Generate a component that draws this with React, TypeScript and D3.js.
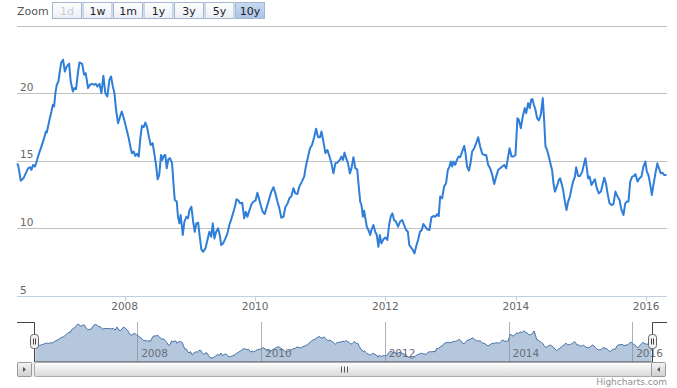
import { useEffect, useRef } from "react"
import * as d3 from "d3"

// weekly-ish closes, dates as "%Y-%j" (year + day of year)
const series: [string, number][] = [
  ["2006-130", 14.81], ["2006-136", 14.57], ["2006-149", 13.53], ["2006-164", 13.7], ["2006-177", 14.07],
  ["2006-190", 14.44], ["2006-202", 14.52], ["2006-209", 14.32], ["2006-218", 14.69], ["2006-228", 14.57],
  ["2006-235", 14.81], ["2006-243", 15.19], ["2006-252", 15.56], ["2006-262", 15.93], ["2006-271", 16.3],
  ["2006-280", 16.67], ["2006-290", 17.16], ["2006-295", 17.09], ["2006-302", 17.53], ["2006-312", 18.15],
  ["2006-321", 18.64], ["2006-329", 19.14], ["2006-336", 19.01], ["2006-343", 20.0], ["2006-351", 20.62],
  ["2006-360", 20.86],
  ["2007-003", 21.6], ["2007-010", 22.22], ["2007-021", 22.47], ["2007-031", 21.6], ["2007-042", 21.98],
  ["2007-055", 22.17], ["2007-064", 20.86], ["2007-076", 20.12], ["2007-084", 20.37], ["2007-094", 20.3],
  ["2007-104", 21.48], ["2007-113", 22.27], ["2007-128", 22.17], ["2007-139", 21.36], ["2007-148", 21.48],
  ["2007-161", 20.37], ["2007-172", 20.62], ["2007-184", 20.69], ["2007-195", 20.62], ["2007-204", 20.69],
  ["2007-213", 20.49], ["2007-225", 20.69], ["2007-236", 20.0], ["2007-247", 21.28], ["2007-258", 20.0],
  ["2007-269", 19.75], ["2007-281", 20.99], ["2007-290", 21.23], ["2007-300", 20.49], ["2007-309", 20.0],
  ["2007-318", 18.77], ["2007-329", 17.78], ["2007-341", 18.27], ["2007-350", 18.64], ["2007-362", 18.1],
  ["2008-013", 17.28], ["2008-024", 16.67], ["2008-033", 16.05], ["2008-042", 15.56], ["2008-052", 15.68],
  ["2008-061", 15.36], ["2008-070", 15.51], ["2008-080", 15.31], ["2008-089", 16.67], ["2008-098", 17.58],
  ["2008-108", 17.48], ["2008-117", 17.83], ["2008-126", 17.53], ["2008-136", 16.84], ["2008-147", 16.17],
  ["2008-158", 16.3], ["2008-167", 15.56], ["2008-177", 14.69], ["2008-186", 13.63], ["2008-195", 13.95],
  ["2008-205", 15.43], ["2008-212", 15.06], ["2008-220", 15.36], ["2008-229", 15.43], ["2008-237", 14.44],
  ["2008-246", 15.11], ["2008-255", 15.19], ["2008-267", 14.81], ["2008-276", 13.09], ["2008-282", 12.1],
  ["2008-293", 11.98], ["2008-300", 10.86], ["2008-308", 10.37], ["2008-315", 10.99], ["2008-327", 9.51],
  ["2008-336", 10.49], ["2008-347", 10.86], ["2008-356", 10.74], ["2008-365", 11.36],
  ["2009-009", 11.6], ["2009-019", 10.49], ["2009-028", 9.75], ["2009-037", 10.37], ["2009-047", 10.42],
  ["2009-056", 9.38], ["2009-065", 8.44], ["2009-075", 8.27], ["2009-088", 8.52], ["2009-099", 9.14],
  ["2009-110", 9.75], ["2009-120", 9.38], ["2009-129", 10.37], ["2009-138", 9.26], ["2009-148", 9.75],
  ["2009-159", 10.0], ["2009-169", 9.43], ["2009-176", 8.77], ["2009-187", 8.89], ["2009-200", 9.26],
  ["2009-211", 9.63], ["2009-222", 10.25], ["2009-234", 10.74], ["2009-245", 11.23], ["2009-253", 11.6],
  ["2009-262", 12.15], ["2009-273", 12.05], ["2009-282", 11.85], ["2009-294", 11.9], ["2009-305", 10.74],
  ["2009-314", 11.23], ["2009-323", 10.86], ["2009-334", 11.31], ["2009-346", 11.8], ["2009-357", 11.98],
  ["2010-003", 12.05], ["2010-014", 12.64], ["2010-025", 12.1], ["2010-035", 11.6], ["2010-044", 11.23],
  ["2010-055", 11.06], ["2010-067", 11.6], ["2010-081", 12.22], ["2010-092", 12.72], ["2010-104", 13.04],
  ["2010-115", 12.59], ["2010-126", 11.98], ["2010-137", 11.48], ["2010-148", 10.79], ["2010-160", 10.86],
  ["2010-171", 11.6], ["2010-182", 11.8], ["2010-193", 12.22], ["2010-204", 12.35], ["2010-216", 12.96],
  ["2010-227", 12.59], ["2010-238", 12.54], ["2010-249", 13.09], ["2010-263", 13.46], ["2010-276", 13.83],
  ["2010-287", 14.69], ["2010-298", 15.31], ["2010-309", 15.93], ["2010-320", 16.17], ["2010-332", 16.74],
  ["2010-343", 17.36], ["2010-354", 16.74], ["2010-365", 16.74],
  ["2011-008", 17.16], ["2011-019", 16.42], ["2011-030", 15.56], ["2011-041", 15.8], ["2011-053", 15.31],
  ["2011-064", 14.81], ["2011-075", 14.07], ["2011-086", 14.81], ["2011-097", 14.86], ["2011-111", 15.06],
  ["2011-120", 15.31], ["2011-128", 15.06], ["2011-137", 15.6], ["2011-146", 15.19], ["2011-157", 14.81],
  ["2011-167", 14.07], ["2011-176", 14.44], ["2011-187", 15.26], ["2011-198", 14.44], ["2011-208", 14.37],
  ["2011-217", 13.09], ["2011-225", 11.98], ["2011-232", 11.73], ["2011-240", 10.86], ["2011-247", 11.31],
  ["2011-254", 10.74], ["2011-262", 10.12], ["2011-271", 9.88], ["2011-281", 9.51], ["2011-288", 9.88],
  ["2011-299", 10.25], ["2011-309", 9.75], ["2011-318", 9.51], ["2011-327", 8.64], ["2011-335", 9.51],
  ["2011-344", 8.89], ["2011-355", 9.19],
  ["2012-001", 9.33], ["2012-012", 9.14], ["2012-022", 10.25], ["2012-031", 10.86], ["2012-040", 11.11],
  ["2012-050", 10.62], ["2012-061", 10.49], ["2012-072", 10.12], ["2012-083", 10.49], ["2012-095", 10.62],
  ["2012-106", 10.25], ["2012-117", 9.88], ["2012-127", 9.75], ["2012-135", 8.77], ["2012-145", 8.59],
  ["2012-155", 8.4], ["2012-164", 8.15], ["2012-173", 8.64], ["2012-184", 9.14], ["2012-195", 9.75],
  ["2012-205", 9.88], ["2012-214", 10.32], ["2012-225", 10.12], ["2012-236", 9.93], ["2012-248", 9.88],
  ["2012-259", 10.81], ["2012-270", 10.91], ["2012-281", 10.86], ["2012-292", 11.06], ["2012-300", 10.91],
  ["2012-308", 12.35], ["2012-319", 12.22], ["2012-330", 13.09], ["2012-341", 13.33], ["2012-351", 14.32],
  ["2012-360", 14.57],
  ["2013-002", 14.94], ["2013-009", 14.57], ["2013-017", 14.94], ["2013-026", 14.69], ["2013-036", 15.06],
  ["2013-045", 15.31], ["2013-054", 15.26], ["2013-065", 15.68], ["2013-077", 16.1], ["2013-084", 15.56],
  ["2013-093", 14.57], ["2013-103", 14.27], ["2013-112", 14.81], ["2013-121", 15.68], ["2013-133", 15.93],
  ["2013-144", 16.3], ["2013-155", 16.74], ["2013-166", 16.05], ["2013-178", 15.51], ["2013-189", 15.43],
  ["2013-200", 15.43], ["2013-211", 14.69], ["2013-222", 14.44], ["2013-234", 13.95], ["2013-245", 13.28],
  ["2013-256", 13.83], ["2013-267", 14.32], ["2013-278", 14.44], ["2013-290", 14.57], ["2013-301", 14.69],
  ["2013-312", 14.44], ["2013-323", 15.31], ["2013-331", 15.93], ["2013-342", 15.31], ["2013-353", 15.31],
  ["2013-364", 15.43],
  ["2014-010", 18.15], ["2014-018", 18.02], ["2014-029", 17.41], ["2014-040", 18.27], ["2014-051", 18.89],
  ["2014-059", 18.52], ["2014-070", 19.26], ["2014-079", 18.89], ["2014-087", 19.51], ["2014-094", 19.56],
  ["2014-102", 19.14], ["2014-111", 18.77], ["2014-120", 18.15], ["2014-130", 17.98], ["2014-141", 18.4],
  ["2014-152", 19.63], ["2014-160", 17.9], ["2014-167", 16.05], ["2014-176", 15.8], ["2014-186", 15.31],
  ["2014-197", 14.69], ["2014-204", 14.32], ["2014-212", 13.33], ["2014-220", 12.72], ["2014-231", 13.1],
  ["2014-242", 13.58], ["2014-249", 13.7], ["2014-257", 13.33], ["2014-266", 12.84], ["2014-276", 11.98],
  ["2014-285", 11.36], ["2014-294", 11.98], ["2014-304", 12.35], ["2014-313", 12.96], ["2014-322", 13.46],
  ["2014-332", 13.83], ["2014-339", 14.52], ["2014-350", 13.88], ["2014-361", 13.88],
  ["2015-008", 14.2], ["2015-019", 14.81], ["2015-026", 15.19], ["2015-034", 14.44], ["2015-041", 13.7],
  ["2015-049", 13.83], ["2015-060", 13.21], ["2015-071", 13.46], ["2015-079", 13.63], ["2015-090", 12.96],
  ["2015-101", 12.59], ["2015-113", 12.72], ["2015-124", 13.33], ["2015-131", 13.75], ["2015-141", 13.33],
  ["2015-150", 12.59], ["2015-161", 11.85], ["2015-172", 11.73], ["2015-183", 11.8], ["2015-194", 12.72],
  ["2015-206", 12.35], ["2015-217", 12.1], ["2015-228", 11.36], ["2015-239", 10.99], ["2015-249", 11.85],
  ["2015-258", 11.98], ["2015-267", 11.98], ["2015-277", 13.46], ["2015-288", 13.83], ["2015-299", 13.88],
  ["2015-306", 14.02], ["2015-318", 13.46], ["2015-329", 13.7], ["2015-340", 13.83], ["2015-351", 14.57],
  ["2015-362", 14.94],
  ["2016-005", 14.2], ["2016-014", 13.95], ["2016-023", 13.33], ["2016-033", 12.47], ["2016-042", 13.21],
  ["2016-053", 14.07], ["2016-064", 14.81], ["2016-076", 14.32], ["2016-083", 14.07], ["2016-092", 14.12],
  ["2016-102", 13.95], ["2016-115", 13.95],
]

const rangeStart = "2006-05-08"
const rangeEnd = "2016-04-27"
const yTicks = [5, 10, 15, 20, 25]
const yLabelTicks = [5, 10, 15, 20]
const xTickYears = ["2008", "2010", "2012", "2014", "2016"]
const zoomButtons = ["1d", "1w", "1m", "1y", "3y", "5y", "10y"]
const selectedButton = "10y"
const disabledButtons = ["1d"]

const W = 677
const H = 388
const FONT = '"DejaVu Sans", Verdana, Arial, sans-serif'

export default function App() {
  const svgRef = useRef<SVGSVGElement>(null)

  useEffect(() => {
    if (!svgRef.current) return
    const svg = d3.select(svgRef.current)
    svg.selectAll("*").remove()

    const parseDay = d3.timeParse("%Y-%j")
    const parseIso = d3.timeParse("%Y-%m-%d")
    const parseYear = d3.timeParse("%Y")
    const data = series.map(([d, v]) => ({ date: parseDay(d) as Date, value: v }))
    const domain = [parseIso(rangeStart) as Date, parseIso(rangeEnd) as Date]

    const plot = { left: 17, right: 667, top: 25.5, bottom: 296 }
    const nav = { left: 35, right: 652, top: 322, bottom: 362 }

    const x = d3.scaleTime().domain(domain).range([plot.left, plot.right])
    const y = d3.scaleLinear().domain([5, 25]).range([plot.bottom, plot.top])
    const nx = d3.scaleTime().domain(domain).range([nav.left, nav.right])
    const ny = d3.scaleLinear().domain([6.6, 23.4]).range([nav.bottom, nav.top])
    const crisp = (v: number) => Math.round(v) + 0.5

    const defs = svg.append("defs")
    const grad = (id: string, a: string, b: string) => {
      const g = defs.append("linearGradient").attr("id", id)
        .attr("x1", 0).attr("y1", 0).attr("x2", 0).attr("y2", 1)
      g.append("stop").attr("offset", 0).attr("stop-color", a)
      g.append("stop").attr("offset", 1).attr("stop-color", b)
    }
    grad("btn", "#ffffff", "#eaeff6")
    grad("btnSel", "#c9daf0", "#a9c3e6")
    grad("bar", "#ffffff", "#d8d8d8")
    grad("sbtn", "#f4f4f4", "#cfcfcf")

    // range selector
    svg.append("text")
      .attr("x", 17).attr("y", 15)
      .attr("font-size", 11).attr("fill", "#555")
      .text("Zoom")

    const btn = svg.append("g").selectAll("g")
      .data(zoomButtons)
      .enter().append("g")
      .attr("transform", (_, i) => `translate(${52.5 + i * 30.5}, 2.5)`)
    btn.append("rect")
      .attr("width", 29).attr("height", 16)
      .attr("fill", (d) => (d === selectedButton ? "url(#btnSel)" : "url(#btn)"))
      .attr("stroke", "#a3b7d1")
    btn.append("text")
      .attr("x", 14.5).attr("y", 12.5)
      .attr("text-anchor", "middle")
      .attr("font-size", 11)
      .attr("fill", (d) => (disabledButtons.includes(d) ? "#cccccc" : "#222"))
      .text((d) => d)

    // grid
    svg.append("g").selectAll("line")
      .data(yTicks)
      .enter().append("line")
      .attr("x1", plot.left).attr("x2", plot.right)
      .attr("y1", (d) => crisp(y(d))).attr("y2", (d) => crisp(y(d)))
      .attr("stroke", "#C0C0C0")

    svg.append("g").selectAll("text")
      .data(yLabelTicks)
      .enter().append("text")
      .attr("x", 20).attr("y", (d) => y(d) - 2.5)
      .attr("font-size", 10.5).attr("fill", "#666")
      .text((d) => d)

    // x axis
    svg.append("line")
      .attr("x1", plot.left).attr("x2", plot.right)
      .attr("y1", crisp(plot.bottom)).attr("y2", crisp(plot.bottom))
      .attr("stroke", "#C0D0E0")

    const years = xTickYears.map((t) => ({ label: t, date: parseYear(t) as Date }))
    svg.append("g").selectAll("line")
      .data(years)
      .enter().append("line")
      .attr("x1", (d) => crisp(x(d.date))).attr("x2", (d) => crisp(x(d.date)))
      .attr("y1", plot.bottom).attr("y2", plot.bottom + 5)
      .attr("stroke", "#C0D0E0")
    svg.append("g").selectAll("text")
      .data(years)
      .enter().append("text")
      .attr("x", (d) => x(d.date)).attr("y", 310)
      .attr("text-anchor", "middle")
      .attr("font-size", 10.5).attr("fill", "#666")
      .text((d) => d.label)

    // main series
    const line = d3.line<{ date: Date; value: number }>()
      .x((d) => x(d.date))
      .y((d) => y(d.value))
    svg.append("path")
      .datum(data)
      .attr("d", line)
      .attr("fill", "none")
      .attr("stroke", "#2f7ed8")
      .attr("stroke-width", 2)
      .attr("stroke-linejoin", "round")

    // navigator
    const area = d3.area<{ date: Date; value: number }>()
      .x((d) => nx(d.date))
      .y0(nav.bottom)
      .y1((d) => ny(d.value))
    svg.append("path")
      .datum(data)
      .attr("d", area)
      .attr("fill", "rgba(69,114,167,0.4)")
    svg.append("path")
      .datum(data)
      .attr("d", area.lineY1())
      .attr("fill", "none")
      .attr("stroke", "#4572A7")
      .attr("stroke-width", 1)

    svg.append("g").selectAll("line")
      .data(years)
      .enter().append("line")
      .attr("x1", (d) => crisp(nx(d.date))).attr("x2", (d) => crisp(nx(d.date)))
      .attr("y1", nav.top).attr("y2", nav.bottom)
      .attr("stroke", "#8a8f99").attr("stroke-opacity", 0.7)
    svg.append("g").selectAll("text")
      .data(years)
      .enter().append("text")
      .attr("x", (d) => nx(d.date) + 4).attr("y", 357)
      .attr("font-size", 10.5).attr("fill", "#6a6f78")
      .text((d) => d.label)

    const l = crisp(nav.left) - 1
    const r = crisp(nav.right)
    svg.append("path")
      .attr("d", `M${plot.left},${nav.top + 0.5}L${l},${nav.top + 0.5}L${l},${nav.bottom}L${r},${nav.bottom}L${r},${nav.top + 0.5}L${plot.right},${nav.top + 0.5}`)
      .attr("fill", "none")
      .attr("stroke", "#444")

    // scrollbar
    const sb = { top: 362.5, h: 14 }
    svg.append("rect")
      .attr("x", plot.left + 14).attr("y", sb.top)
      .attr("width", plot.right - plot.left - 28).attr("height", sb.h)
      .attr("fill", "#eeeeee").attr("stroke", "#eeeeee")
    svg.append("rect")
      .attr("x", l).attr("y", sb.top)
      .attr("width", r - l).attr("height", sb.h)
      .attr("rx", 2)
      .attr("fill", "url(#bar)").attr("stroke", "#aaaaaa")
    const mid = Math.round((l + r) / 2)
    ;[-3, 0, 3].forEach((o) => {
      svg.append("line")
        .attr("x1", mid + o + 0.5).attr("x2", mid + o + 0.5)
        .attr("y1", sb.top + 4).attr("y2", sb.top + 10)
        .attr("stroke", "#555")
    })
    const arrowBtn = (bx: number, dir: number) => {
      svg.append("rect")
        .attr("x", bx).attr("y", sb.top)
        .attr("width", 14).attr("height", sb.h)
        .attr("rx", 1)
        .attr("fill", "url(#sbtn)").attr("stroke", "#999")
      const cx = bx + 7
      const cy = sb.top + 7
      svg.append("path")
        .attr("d", `M${cx - 1.5 * dir},${cy}L${cx + 1.5 * dir},${cy - 2.5}L${cx + 1.5 * dir},${cy + 2.5}Z`)
        .attr("fill", "#555")
    }
    arrowBtn(plot.left + 0.5, -1)
    arrowBtn(plot.right - 15.5, 1)

    // handles
    ;[l, r].forEach((hx) => {
      const g = svg.append("g").attr("transform", `translate(${hx}, 334.5)`)
      g.append("rect")
        .attr("x", -4).attr("y", 0).attr("width", 8).attr("height", 14)
        .attr("rx", 3)
        .attr("fill", "#f2f2f2").attr("stroke", "#666")
      ;[-1, 1].forEach((o) => {
        g.append("line")
          .attr("x1", o).attr("x2", o)
          .attr("y1", 4).attr("y2", 10)
          .attr("stroke", "#444")
      })
    })

    svg.append("text")
      .attr("x", plot.right).attr("y", 385)
      .attr("text-anchor", "end")
      .attr("font-size", 9).attr("fill", "#909090")
      .text("Highcharts.com")
  }, [])

  return (
    <svg
      ref={svgRef}
      width={W}
      height={H}
      style={{ position: "absolute", left: 0, top: 0, fontFamily: FONT, background: "#fff" }}
    />
  )
}
